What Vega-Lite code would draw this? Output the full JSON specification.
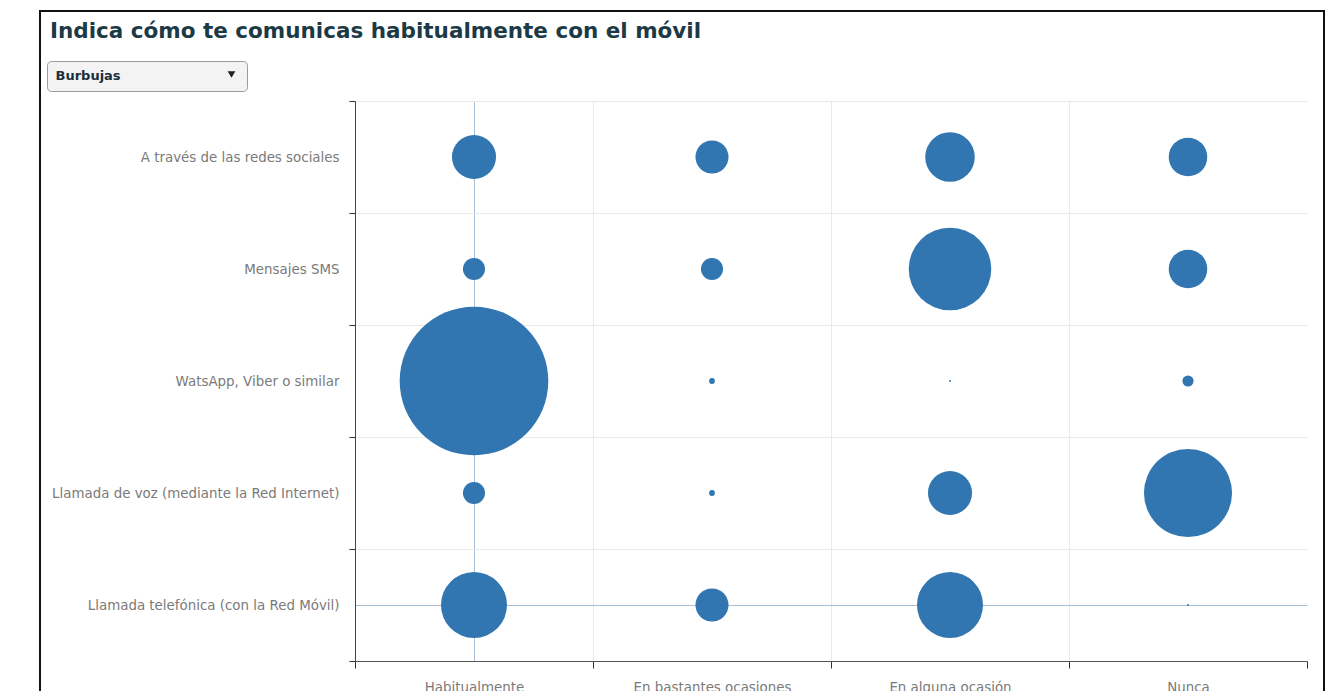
{
  "$schema": "https://vega.github.io/schema/vega-lite/v6.json",
  "width": 1284,
  "height": 681,
  "autosize": {"type": "none"},
  "padding": {"left": 40, "top": 11, "right": 2, "bottom": 0},
  "background": "white",
  "title": {
    "text": "Indica cómo te comunicas habitualmente con el móvil",
    "anchor": "start",
    "frame": "group",
    "font": "DejaVu Sans",
    "fontSize": 21.5,
    "fontWeight": "bold",
    "color": "#1c3a46",
    "dx": 10,
    "dy": 38,
    "offset": 0
  },
  "data": {
    "values": [
      {"canal": "A través de las redes sociales", "frecuencia": "Habitualmente", "n": 8},
      {"canal": "A través de las redes sociales", "frecuencia": "En bastantes ocasiones", "n": 6},
      {"canal": "A través de las redes sociales", "frecuencia": "En alguna ocasión", "n": 9},
      {"canal": "A través de las redes sociales", "frecuencia": "Nunca", "n": 7},
      {"canal": "Mensajes SMS", "frecuencia": "Habitualmente", "n": 4},
      {"canal": "Mensajes SMS", "frecuencia": "En bastantes ocasiones", "n": 4},
      {"canal": "Mensajes SMS", "frecuencia": "En alguna ocasión", "n": 15},
      {"canal": "Mensajes SMS", "frecuencia": "Nunca", "n": 7},
      {"canal": "WatsApp, Viber o similar", "frecuencia": "Habitualmente", "n": 27},
      {"canal": "WatsApp, Viber o similar", "frecuencia": "En bastantes ocasiones", "n": 1},
      {"canal": "WatsApp, Viber o similar", "frecuencia": "En alguna ocasión", "n": 0},
      {"canal": "WatsApp, Viber o similar", "frecuencia": "Nunca", "n": 2},
      {"canal": "Llamada de voz (mediante la Red Internet)", "frecuencia": "Habitualmente", "n": 4},
      {"canal": "Llamada de voz (mediante la Red Internet)", "frecuencia": "En bastantes ocasiones", "n": 1},
      {"canal": "Llamada de voz (mediante la Red Internet)", "frecuencia": "En alguna ocasión", "n": 8},
      {"canal": "Llamada de voz (mediante la Red Internet)", "frecuencia": "Nunca", "n": 16},
      {"canal": "Llamada telefónica (con la Red Móvil)", "frecuencia": "Habitualmente", "n": 12},
      {"canal": "Llamada telefónica (con la Red Móvil)", "frecuencia": "En bastantes ocasiones", "n": 6},
      {"canal": "Llamada telefónica (con la Red Móvil)", "frecuencia": "En alguna ocasión", "n": 12},
      {"canal": "Llamada telefónica (con la Red Móvil)", "frecuencia": "Nunca", "n": 0}
    ]
  },
  "layer": [
    {
      "mark": {"type": "point", "opacity": 0},
      "encoding": {
        "x": {
          "field": "frecuencia",
          "type": "nominal",
          "sort": ["Habitualmente", "En bastantes ocasiones", "En alguna ocasión", "Nunca"],
          "axis": {
            "orient": "top",
            "values": ["Habitualmente", "En bastantes ocasiones", "En alguna ocasión"],
            "tickBand": "extent",
            "grid": true,
            "gridColor": "#eaeaea",
            "labels": false,
            "ticks": false,
            "domain": false,
            "title": null
          }
        },
        "y": {
          "field": "canal",
          "type": "nominal",
          "sort": ["A través de las redes sociales", "Mensajes SMS", "WatsApp, Viber o similar", "Llamada de voz (mediante la Red Internet)", "Llamada telefónica (con la Red Móvil)"],
          "axis": null
        }
      }
    },
    {
      "mark": {"type": "point", "filled": true, "opacity": 0, "color": "#222222"},
      "encoding": {
        "x": {
          "field": "frecuencia",
          "type": "nominal",
          "sort": ["Habitualmente", "En bastantes ocasiones", "En alguna ocasión", "Nunca"],
          "axis": {"orient": "top", "values": ["Habitualmente"], "grid": true, "gridColor": "#a9bfd8", "labels": false, "ticks": false, "domain": false, "title": null}
        },
        "y": {
          "field": "canal",
          "type": "nominal",
          "sort": ["A través de las redes sociales", "Mensajes SMS", "WatsApp, Viber o similar", "Llamada de voz (mediante la Red Internet)", "Llamada telefónica (con la Red Móvil)"],
          "axis": {"orient": "left", "values": ["Llamada telefónica (con la Red Móvil)"], "grid": true, "gridColor": "#a9bfd8", "labels": false, "ticks": false, "domain": false, "title": null}
        },
        "shape": {
          "datum": "Burbujas",
          "scale": {"range": ["triangle-down"]},
          "legend": {
            "title": " Burbujas",
            "titleOrient": "left",
            "titleFont": "DejaVu Sans",
            "titleFontSize": 13,
            "titleFontWeight": "bold",
            "titleColor": "#1b2f3b",
            "titlePadding": 105,
            "labelExpr": "''",
            "labelOffset": 0,
            "orient": "none",
            "legendX": 7,
            "legendY": 50,
            "strokeColor": "#9c9c9c",
            "fillColor": "#f3f3f3",
            "cornerRadius": 4,
            "padding": 8.5,
            "symbolSize": 60,
            "symbolFillColor": "#222222",
            "symbolStrokeColor": "#222222",
            "symbolOpacity": 1,
            "direction": "horizontal"
          }
        }
      }
    },
    {
      "mark": {"type": "circle", "opacity": 1, "color": "#3176b0"},
      "encoding": {
        "x": {
          "field": "frecuencia",
          "type": "nominal",
          "sort": ["Habitualmente", "En bastantes ocasiones", "En alguna ocasión", "Nunca"],
          "scale": {"type": "band", "range": [315, 1267], "paddingInner": 0, "paddingOuter": 0},
          "axis": {
            "orient": "bottom",
            "offset": -31,
            "title": null,
            "tickBand": "extent",
            "tickSize": 7,
            "tickColor": "#333333",
            "domainColor": "#555555",
            "labelColor": "#7a7a7a",
            "labelFont": "DejaVu Sans",
            "labelFontSize": 13.4,
            "labelAngle": 0,
            "labelPadding": 12,
            "grid": false
          }
        },
        "y": {
          "field": "canal",
          "type": "nominal",
          "sort": ["A través de las redes sociales", "Mensajes SMS", "WatsApp, Viber o similar", "Llamada de voz (mediante la Red Internet)", "Llamada telefónica (con la Red Móvil)"],
          "scale": {"type": "band", "range": [90, 650], "paddingInner": 0, "paddingOuter": 0},
          "axis": {
            "orient": "left",
            "offset": -315,
            "title": null,
            "tickBand": "extent",
            "tickSize": 6,
            "tickColor": "#333333",
            "domainColor": "#444444",
            "labelColor": "#7a7a7a",
            "labelFont": "DejaVu Sans",
            "labelFontSize": 13.4,
            "labelPadding": 10,
            "labelLimit": 400,
            "grid": true,
            "gridColor": "#eaeaea"
          }
        },
        "size": {
          "field": "n",
          "type": "quantitative",
          "scale": {"type": "pow", "exponent": 2, "domain": [0, 27], "range": [4, 22080]},
          "legend": null
        }
      }
    }
  ],
  "resolve": {"axis": {"x": "independent", "y": "independent"}},
  "config": {"view": {"stroke": "#111111", "strokeWidth": 2}}
}
